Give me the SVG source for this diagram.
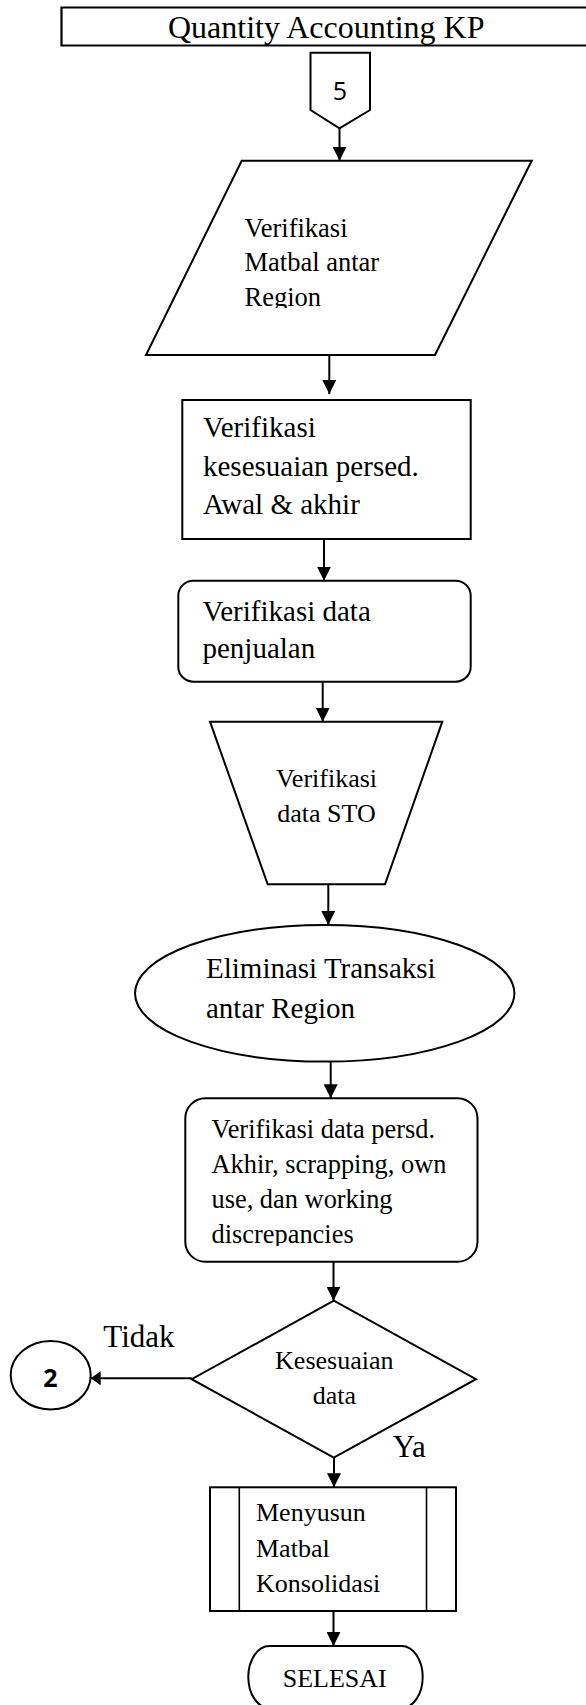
<svg xmlns="http://www.w3.org/2000/svg" width="586" height="1705" viewBox="0 0 586 1705">
  <defs>
    <style>
      .shape { fill: #ffffff; stroke: #000000; stroke-width: 2; }
      .thin { fill: none; stroke: #000000; stroke-width: 1.6; }
      .edge { fill: none; stroke: #000000; stroke-width: 2; }
      .t { font-family: "Liberation Serif", "Times New Roman", serif; fill: #000000; }
      .num { font-family: "Open Sans", "Liberation Sans", sans-serif; fill: #000000; font-size: 25px; text-anchor: middle; }
    </style>
    <marker id="arrow" viewBox="0 0 14 14" refX="14" refY="7" markerWidth="14" markerHeight="14" markerUnits="userSpaceOnUse" orient="auto">
      <path d="M0,0 L14,7 L0,14 z" fill="#000000"/>
    </marker>
    <marker id="arrowSmall" viewBox="0 0 10 14" refX="10" refY="7" markerWidth="10" markerHeight="14" markerUnits="userSpaceOnUse" orient="auto">
      <path d="M0,0 L10,7 L0,14 z" fill="#000000"/>
    </marker>
    <clipPath id="clipMatbal">
      <rect x="140" y="160" width="400" height="148"/>
    </clipPath>
    <clipPath id="clipPersd">
      <rect x="180" y="1100" width="300" height="146"/>
    </clipPath>
  </defs>

  <!-- swimlane header -->
  <g id="header">
    <path d="M600,7.5 H61.5 V45.5 H600" fill="#ffffff" stroke="#000000" stroke-width="2.2"/>
    <text class="t" x="168" y="37.5" font-size="32">Quantity Accounting KP</text>
  </g>

  <!-- off-page connector 5 -->
  <g id="conn5">
    <path class="shape" d="M310.5,52.7 H370 V110 L339.5,128.3 L310.5,110 Z"/>
    <text class="num" x="340" y="100">5</text>
  </g>

  <!-- input: Verifikasi Matbal antar Region -->
  <g id="matbal">
    <path class="shape" d="M241.7,160.7 H531.7 L435,355 H146 Z"/>
    <g clip-path="url(#clipMatbal)">
      <text class="t" font-size="26.5" x="244.5" y="237">Verifikasi</text>
      <text class="t" font-size="26.5" x="244.5" y="271">Matbal antar</text>
      <text class="t" font-size="26.5" x="244.5" y="306">Region</text>
    </g>
  </g>

  <!-- process: kesesuaian persediaan -->
  <g id="persed">
    <rect class="shape" x="182.3" y="400" width="288.4" height="139"/>
    <text class="t" font-size="29" x="203" y="437.3">Verifikasi</text>
    <text class="t" font-size="29" x="203" y="476">kesesuaian persed.</text>
    <text class="t" font-size="29" x="203" y="514">Awal &amp; akhir</text>
  </g>

  <!-- process: data penjualan -->
  <g id="penjualan">
    <rect class="shape" x="178.3" y="580.7" width="292.4" height="101" rx="15" ry="15"/>
    <text class="t" font-size="29" x="202.5" y="621">Verifikasi data</text>
    <text class="t" font-size="29" x="202.5" y="658.3">penjualan</text>
  </g>

  <!-- manual operation: data STO -->
  <g id="sto">
    <path class="shape" d="M210,721.7 H442.3 L385,884.3 H267.7 Z"/>
    <text class="t" font-size="26" x="326.5" y="786.7" text-anchor="middle">Verifikasi</text>
    <text class="t" font-size="26" x="326.5" y="821.7" text-anchor="middle">data STO</text>
  </g>

  <!-- eliminasi transaksi -->
  <g id="eliminasi">
    <ellipse class="shape" cx="324.7" cy="993.3" rx="189.7" ry="68.3"/>
    <text class="t" font-size="29" x="206" y="978.3">Eliminasi Transaksi</text>
    <text class="t" font-size="29" x="206" y="1018.3">antar Region</text>
  </g>

  <!-- process: persediaan akhir -->
  <g id="persdAkhir">
    <rect class="shape" x="185.3" y="1098.3" width="292.2" height="163.4" rx="20" ry="20"/>
    <g clip-path="url(#clipPersd)">
      <text class="t" font-size="26.4" x="211.5" y="1138.3">Verifikasi data persd.</text>
      <text class="t" font-size="26.4" x="211.5" y="1172.7">Akhir, scrapping, own</text>
      <text class="t" font-size="26.4" x="211.5" y="1208.3">use, dan working</text>
      <text class="t" font-size="26.4" x="211.5" y="1243.3">discrepancies</text>
    </g>
  </g>

  <!-- decision -->
  <g id="decision">
    <path class="shape" d="M333.8,1300.7 L476,1379.2 L333.8,1457.7 L191.7,1379.2 Z"/>
    <text class="t" font-size="26" x="334.3" y="1369.3" text-anchor="middle">Kesesuaian</text>
    <text class="t" font-size="26" x="334.3" y="1404" text-anchor="middle">data</text>
  </g>

  <!-- on-page connector 2 -->
  <g id="conn2">
    <ellipse class="shape" cx="50.7" cy="1375.2" rx="40" ry="34.2"/>
    <text class="num" x="50.5" y="1386.7" font-weight="bold">2</text>
  </g>

  <!-- predefined process -->
  <g id="matbalKonsolidasi">
    <rect class="shape" x="210" y="1487.3" width="246" height="123.7"/>
    <line class="thin" x1="239.3" y1="1487.3" x2="239.3" y2="1611"/>
    <line class="thin" x1="426.5" y1="1487.3" x2="426.5" y2="1611"/>
    <text class="t" font-size="26" x="256" y="1520.7">Menyusun</text>
    <text class="t" font-size="26" x="256" y="1556.7">Matbal</text>
    <text class="t" font-size="26" x="256" y="1591.7">Konsolidasi</text>
  </g>

  <!-- terminator -->
  <g id="selesai">
    <rect class="shape" x="248.3" y="1646" width="174.4" height="62" rx="21" ry="31"/>
    <text class="t" font-size="26" x="334.7" y="1687.3" text-anchor="middle">SELESAI</text>
  </g>

  <!-- branch labels -->
  <g id="labels">
    <text class="t" font-size="31" x="103.3" y="1346.7">Tidak</text>
    <text class="t" font-size="31" x="392.7" y="1456.7">Ya</text>
  </g>

  <!-- connectors -->
  <g id="connectors">
    <line class="edge" x1="339.5" y1="128.3" x2="339.5" y2="160.7" marker-end="url(#arrow)"/>
    <line class="edge" x1="329.3" y1="355" x2="329.3" y2="394" marker-end="url(#arrow)"/>
    <line class="edge" x1="324" y1="539" x2="324" y2="580.7" marker-end="url(#arrow)"/>
    <line class="edge" x1="322.7" y1="681.7" x2="322.7" y2="721.7" marker-end="url(#arrow)"/>
    <line class="edge" x1="328.3" y1="884.3" x2="328.3" y2="925" marker-end="url(#arrow)"/>
    <line class="edge" x1="330.7" y1="1061.7" x2="330.7" y2="1098.3" marker-end="url(#arrow)"/>
    <line class="edge" x1="333.5" y1="1261.7" x2="333.5" y2="1300.7" marker-end="url(#arrow)"/>
    <line class="edge" x1="191.7" y1="1378.3" x2="90.7" y2="1378.3" marker-end="url(#arrowSmall)"/>
    <line class="edge" x1="334" y1="1457.7" x2="334" y2="1487.3" marker-end="url(#arrow)"/>
    <line class="edge" x1="333.5" y1="1611" x2="333.5" y2="1646" marker-end="url(#arrow)"/>
  </g>
</svg>
